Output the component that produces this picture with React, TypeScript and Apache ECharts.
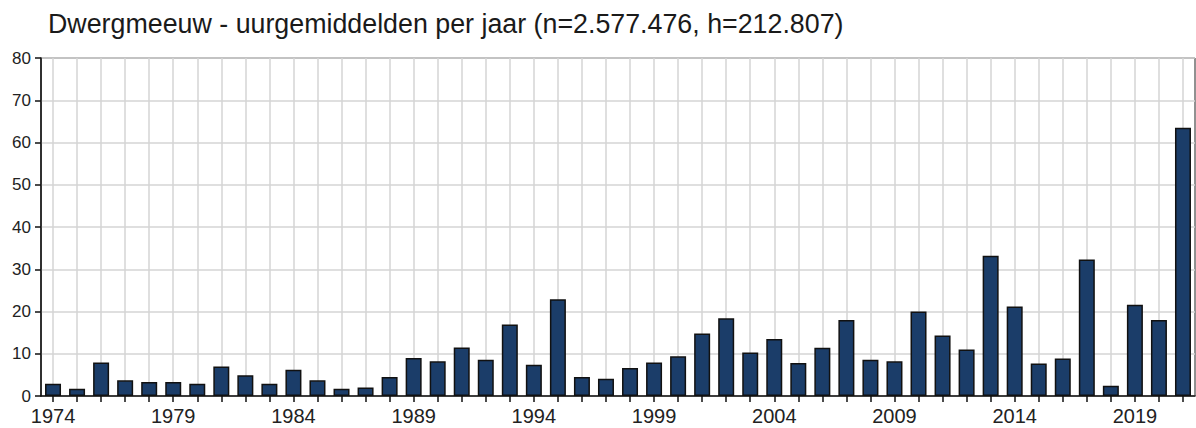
import React, { useEffect, useRef } from "react";
import * as echarts from "echarts";

const years: string[] = [
  "1974","1975","1976","1977","1978","1979","1980","1981","1982","1983",
  "1984","1985","1986","1987","1988","1989","1990","1991","1992","1993",
  "1994","1995","1996","1997","1998","1999","2000","2001","2002","2003",
  "2004","2005","2006","2007","2008","2009","2010","2011","2012","2013",
  "2014","2015","2016","2017","2018","2019","2020","2021",
];

const hourlyAverages: number[] = [
  2.9, 1.7, 7.9, 3.7, 3.3, 3.3, 2.9, 7.0, 4.9, 2.9,
  6.2, 3.7, 1.7, 2.0, 4.5, 9.0, 8.2, 11.5, 8.6, 16.9,
  7.4, 22.9, 4.5, 4.1, 6.6, 7.9, 9.4, 14.8, 18.4, 10.3,
  13.5, 7.8, 11.4, 18.0, 8.6, 8.2, 20.0, 14.3, 11.0, 33.2,
  21.2, 7.7, 8.9, 32.3, 2.4, 21.6, 18.0, 63.5,
];

const titleText = "Dwergmeeuw - uurgemiddelden per jaar (n=2.577.476, h=212.807)";

export default function App() {
  const ref = useRef<HTMLDivElement>(null);
  useEffect(() => {
    if (!ref.current) return;
    const chart = echarts.init(ref.current, undefined, { renderer: "svg" });
    chart.setOption({
      animation: false,
      backgroundColor: "#ffffff",
      title: {
        text: titleText,
        left: 48,
        top: 10,
        padding: 0,
        textStyle: {
          fontFamily: "Liberation Sans",
          fontSize: 26.8,
          fontWeight: "normal",
          color: "#1a1a1a",
        },
      },
      grid: {
        left: 41,
        top: 58,
        right: 1,
        bottom: 32,
        show: true,
        borderColor: "#222",
        borderWidth: 1,
        backgroundColor: "transparent",
      },
      xAxis: {
        type: "category",
        data: years,
        boundaryGap: true,
        axisLine: { show: true, lineStyle: { color: "#111", width: 1.5 } },
        axisTick: {
          show: true,
          interval: 0,
          alignWithLabel: true,
          length: 6,
          lineStyle: { color: "#111", width: 1.5 },
        },
        axisLabel: {
          interval: 4,
          margin: 10,
          fontFamily: "Liberation Sans",
          fontSize: 20,
          color: "#222",
        },
        splitLine: {
          show: true,
          interval: 0,
          alignWithLabel: true,
          lineStyle: { color: "#d4d4d4", width: 1.5 },
        },
      },
      yAxis: {
        type: "value",
        min: 0,
        max: 80,
        interval: 10,
        axisLine: { show: true, lineStyle: { color: "#111", width: 1.5 } },
        axisTick: { show: true, length: 6, lineStyle: { color: "#111", width: 1.5 } },
        axisLabel: {
          margin: 10,
          fontFamily: "Liberation Sans",
          fontSize: 17,
          color: "#222",
        },
        splitLine: { show: true, lineStyle: { color: "#d4d4d4", width: 1.5 } },
      },
      series: [
        {
          type: "bar",
          data: hourlyAverages,
          barWidth: 16,
          itemStyle: {
            color: "#1b3d69",
            borderColor: "#111",
            borderWidth: 1.5,
          },
        },
      ],
    });
    return () => chart.dispose();
  }, []);
  return (
    <div
      ref={ref}
      style={{ position: "fixed", left: 0, top: 0, width: 1196, height: 428 }}
    />
  );
}
